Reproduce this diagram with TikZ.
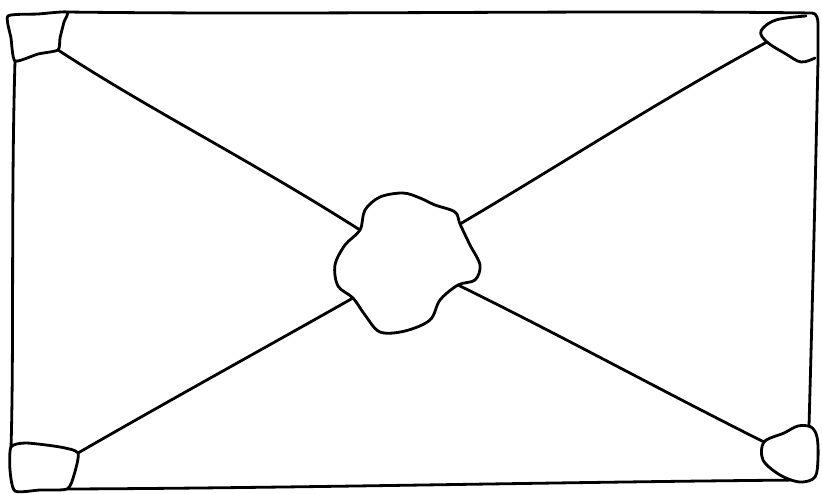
\documentclass[tikz,border=0pt]{standalone}
\usepackage{tikz}
\usetikzlibrary{calc}
\tikzset{
sketchline/.style={line width=2.8pt, line cap=round, line join=round, draw=black},
sketchblob/.style={sketchline, fill=white}
}
\begin{document}
\begin{tikzpicture}[x=1pt, y=-1pt]
  \useasboundingbox (0,0) rectangle (822,493);
  % junction points of the blobs
  \coordinate (tlJ) at (58,50);
  \coordinate (trJ) at (767,42);
  \coordinate (blJ) at (78,453);
  \coordinate (brJ) at (764,442);
  \coordinate (cUL) at (360,230);
  \coordinate (cUR) at (460,224);
  \coordinate (cLL) at (353,298);
  \coordinate (cLR) at (458,285);
  % frame
  \draw[sketchline] (67,12) .. controls (300,15) and (600,10) .. (812,13) to[out=0,in=90] (818,24) -- (818,60)
    .. controls (815,200) and (812,320) .. (809,426);
  \draw[sketchline] (800,480) .. controls (560,482) and (300,488) .. (68,489);
  \draw[sketchline] (15,61) .. controls (11,200) and (14,350) .. (11,448);
  % connectors
  \draw[sketchline] (tlJ) .. controls (150,110) and (250,160) .. (cUL);
  \draw[sketchline] (trJ) .. controls (660,100) and (560,165) .. (cUR);
  \draw[sketchline] (blJ) .. controls (170,400) and (270,345) .. (cLL);
  \draw[sketchline] (brJ) .. controls (660,390) and (560,335) .. (cLR);
  % corner blobs
  \draw[sketchblob] plot[smooth cycle, tension=0.35] coordinates {(8,16) (38,14) (67,12) (64,22) (60,38) (tlJ) (38,54) (15,61) (11,38)};
  \draw[sketchline] plot[smooth, tension=0.6] coordinates {(806,16) (776,20) (761,31) (trJ) (786,54) (801,62) (815,58)};
  \draw[sketchblob] plot[smooth cycle, tension=0.55] coordinates {(811,427) (798,426) (784,433) (brJ) (763,460) (780,475) (800,482) (815,477) (818,458) (817,437)};
  \draw[sketchblob] plot[smooth cycle, tension=0.4] coordinates {(11,447) (26,443) (60,447) (blJ) (74,475) (67,489) (40,490) (15,491) (10,470)};
  % central blob
  \draw[sketchblob] plot[smooth cycle, tension=0.55] coordinates {(403,193) (420,198) (435,205) (455,212) (cUR) (470,245) (480,265) (475,280) (cLR) (440,300) (430,320) (405,331) (380,332) (365,315) (cLL) (338,286) (335,265) (345,245) (cUL) (365,210) (380,197)};
\end{tikzpicture}
\end{document}
